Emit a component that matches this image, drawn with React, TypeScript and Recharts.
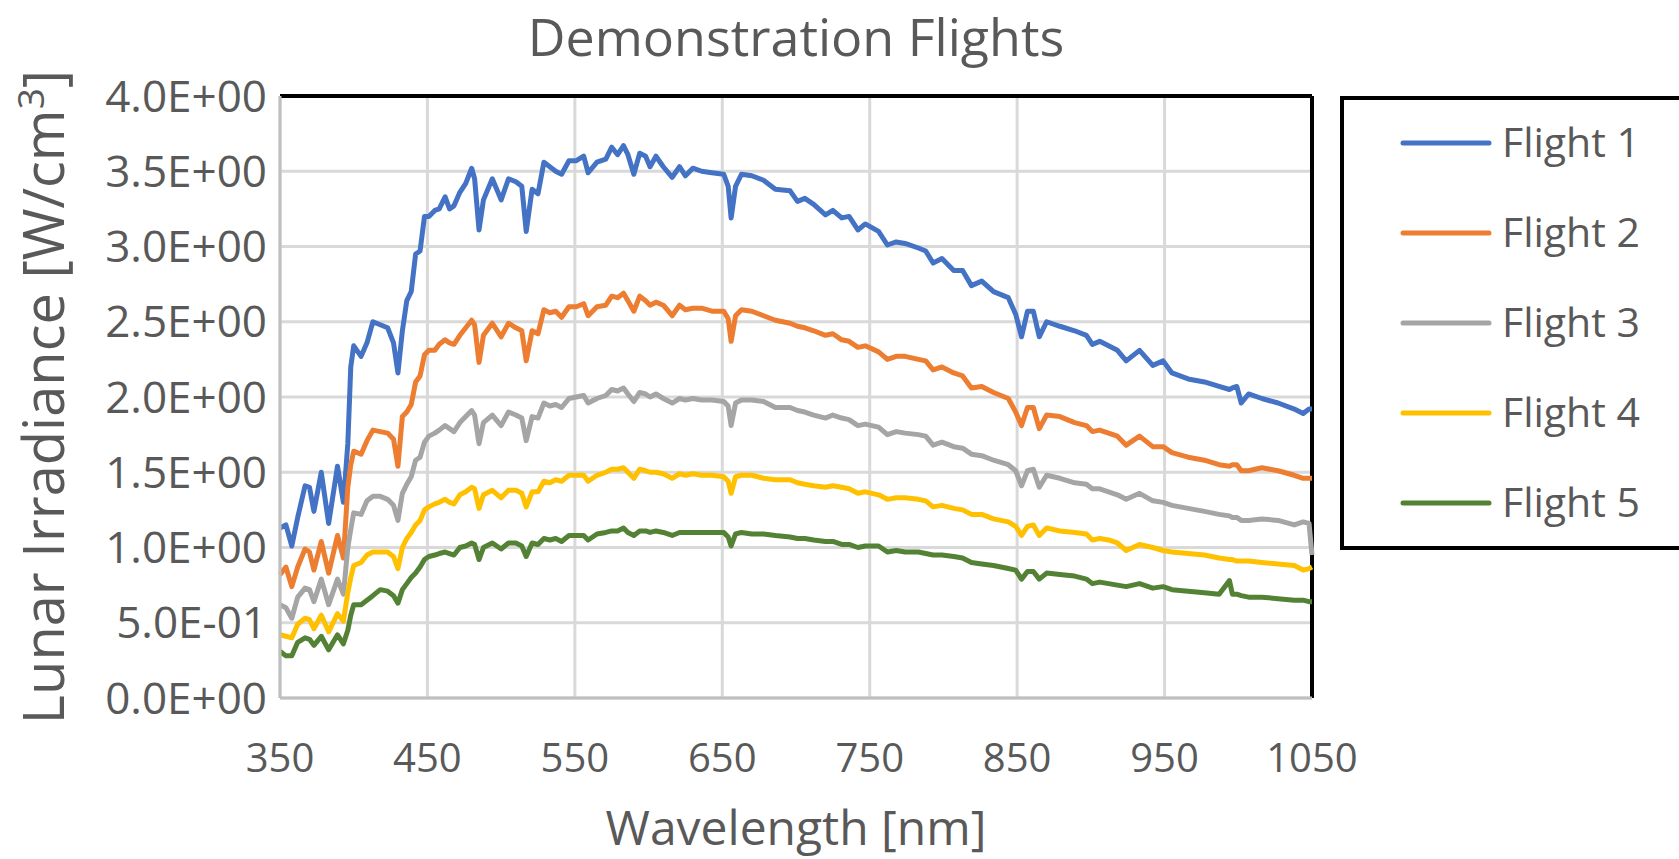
import {
  LineChart,
  Line,
  XAxis,
  YAxis,
  CartesianGrid,
  ReferenceLine,
} from "recharts";

const wavelengths = [
  350, 354, 358, 362, 367, 370, 373, 378, 383, 389,
  393, 396, 398, 400, 405, 409, 413, 418, 423, 427,
  430, 433, 436, 439, 442, 445, 448, 451, 455, 458,
  462, 465, 468, 472, 476, 480, 482, 485, 488, 494,
  500, 505, 510, 514, 517, 521, 525, 529, 533, 537,
  541, 546, 551, 556, 559, 565, 571, 575, 579, 583,
  586, 590, 594, 598, 601, 605, 610, 616, 621, 625,
  630, 636, 643, 651, 654, 656, 659, 663, 670, 678,
  686, 696, 701, 706, 712, 720, 725, 731, 736, 742,
  747, 756, 762, 768, 774, 783, 788, 793, 799, 807,
  813, 819, 826, 834, 844, 849, 853, 857, 861, 865,
  870, 879, 889, 897, 901, 906, 912, 918, 924, 933,
  942, 949, 955, 966, 977, 987, 994, 996, 999, 1002,
  1007, 1016, 1027, 1038, 1044, 1048, 1050,
];

const flight1 = [
  1.13, 1.15, 1.01, 1.2, 1.41, 1.4, 1.24, 1.5, 1.16, 1.54,
  1.3, 1.69, 2.2, 2.34, 2.27, 2.36, 2.5, 2.48, 2.46, 2.36,
  2.16, 2.44, 2.64, 2.7, 2.95, 2.97, 3.2, 3.2, 3.24, 3.25,
  3.33, 3.25, 3.27, 3.36, 3.42, 3.52, 3.45, 3.11, 3.31, 3.45,
  3.31, 3.45, 3.43, 3.4, 3.1, 3.38, 3.35, 3.56, 3.53, 3.5,
  3.48, 3.57, 3.57, 3.6, 3.49, 3.56, 3.58, 3.66, 3.61, 3.67,
  3.61, 3.48, 3.62, 3.6, 3.53, 3.6, 3.53, 3.46, 3.53, 3.47,
  3.52, 3.5, 3.49, 3.48, 3.4, 3.19, 3.4, 3.48, 3.47, 3.44,
  3.38, 3.37, 3.3, 3.32, 3.28, 3.21, 3.24, 3.19, 3.2, 3.11,
  3.15, 3.1, 3.01, 3.03, 3.02, 2.99, 2.97, 2.89, 2.92, 2.84,
  2.84, 2.74, 2.77, 2.7, 2.66, 2.55, 2.4, 2.57, 2.57, 2.4,
  2.5, 2.47, 2.44, 2.41, 2.35, 2.37, 2.34, 2.31, 2.24, 2.31,
  2.21, 2.24, 2.16, 2.12, 2.1, 2.07, 2.05, 2.06, 2.07, 1.96,
  2.02, 1.99, 1.96, 1.92, 1.89, 1.92, 1.92,
];

const flight2 = [
  0.82, 0.87, 0.74, 0.87, 0.99, 0.97, 0.85, 1.04, 0.83, 1.08,
  0.93, 1.4, 1.55, 1.64, 1.62, 1.71, 1.78, 1.77, 1.76, 1.72,
  1.54, 1.87, 1.9, 1.95, 2.1, 2.14, 2.28, 2.31, 2.31, 2.35,
  2.38, 2.36, 2.35, 2.41, 2.46, 2.51, 2.48, 2.23, 2.41, 2.49,
  2.4, 2.49, 2.46, 2.44, 2.24, 2.44, 2.42, 2.58, 2.56, 2.57,
  2.53, 2.6, 2.6, 2.62, 2.54, 2.6, 2.61, 2.67, 2.66, 2.69,
  2.64, 2.57, 2.67, 2.64, 2.61, 2.63, 2.61, 2.54, 2.61, 2.58,
  2.59, 2.59, 2.57, 2.57, 2.52, 2.37, 2.54, 2.58, 2.57, 2.54,
  2.51, 2.49, 2.47, 2.46, 2.44, 2.41, 2.42, 2.38, 2.37, 2.33,
  2.34, 2.3, 2.25, 2.27, 2.27, 2.25, 2.24, 2.18, 2.2, 2.16,
  2.14, 2.06, 2.07, 2.03, 1.99, 1.9, 1.81, 1.93, 1.93, 1.79,
  1.88, 1.87, 1.83, 1.81, 1.77, 1.78, 1.76, 1.74, 1.68, 1.74,
  1.67, 1.67, 1.63, 1.6, 1.58, 1.55, 1.54, 1.55, 1.55, 1.51,
  1.51, 1.53, 1.51, 1.48, 1.46, 1.46, 1.46,
];

const flight3 = [
  0.62, 0.6, 0.53, 0.67, 0.73, 0.72, 0.64, 0.79, 0.62, 0.79,
  0.69, 1.0, 1.12, 1.23, 1.22, 1.31, 1.34, 1.34, 1.32, 1.28,
  1.18, 1.36, 1.42, 1.47, 1.58, 1.6, 1.7, 1.74, 1.76, 1.78,
  1.81, 1.79, 1.77, 1.83, 1.87, 1.91, 1.88, 1.69, 1.83, 1.88,
  1.81, 1.9, 1.88, 1.86, 1.71, 1.87, 1.86, 1.96, 1.94, 1.95,
  1.93, 1.99, 2.0, 2.01, 1.96, 1.99, 2.01, 2.05, 2.04, 2.06,
  2.02, 1.97, 2.03, 2.02, 2.0, 2.02, 1.99, 1.96, 1.99, 1.98,
  1.99, 1.98, 1.98, 1.97, 1.94, 1.81, 1.96, 1.98, 1.98, 1.97,
  1.93, 1.93, 1.91, 1.9, 1.88, 1.86, 1.88, 1.86, 1.85, 1.81,
  1.82, 1.8, 1.75, 1.77, 1.76, 1.75, 1.74, 1.68, 1.7, 1.67,
  1.66, 1.62, 1.61, 1.58, 1.55, 1.51, 1.41, 1.51, 1.52, 1.4,
  1.48, 1.46, 1.43, 1.42, 1.39, 1.39, 1.37, 1.35, 1.32, 1.36,
  1.31, 1.3, 1.28, 1.26, 1.24, 1.22, 1.21, 1.2, 1.2, 1.18,
  1.18, 1.19, 1.18, 1.15, 1.17, 1.16, 0.95,
];

const flight4 = [
  0.42, 0.41, 0.4, 0.49, 0.53, 0.52, 0.46, 0.55, 0.44, 0.56,
  0.51, 0.7, 0.8, 0.88, 0.9, 0.95, 0.97, 0.97, 0.97, 0.94,
  0.86, 1.0, 1.06, 1.1, 1.15, 1.18, 1.25, 1.27, 1.29, 1.3,
  1.32, 1.3, 1.29, 1.35, 1.37, 1.4, 1.39, 1.26, 1.35, 1.38,
  1.33, 1.38, 1.38, 1.36, 1.27, 1.37, 1.37, 1.44, 1.43, 1.45,
  1.44, 1.48, 1.48, 1.48, 1.44, 1.48, 1.5, 1.52, 1.52, 1.53,
  1.5, 1.46, 1.52, 1.51, 1.5, 1.5, 1.49, 1.46, 1.49, 1.48,
  1.49, 1.48, 1.48, 1.47, 1.44, 1.36, 1.47, 1.48, 1.48, 1.46,
  1.45, 1.45, 1.43, 1.42, 1.41, 1.4, 1.41, 1.4, 1.39, 1.36,
  1.37, 1.35, 1.32, 1.33, 1.33, 1.32, 1.31, 1.27, 1.28, 1.26,
  1.25, 1.22, 1.22, 1.19, 1.17, 1.14, 1.08, 1.14, 1.15, 1.08,
  1.13, 1.11, 1.1, 1.09, 1.05, 1.06, 1.05, 1.03, 0.98, 1.02,
  1.0, 0.98, 0.97, 0.96, 0.95, 0.93, 0.92, 0.92, 0.91, 0.91,
  0.91, 0.9, 0.89, 0.88, 0.85, 0.86, 0.87,
];

const flight5 = [
  0.31, 0.28, 0.28, 0.37, 0.4, 0.39, 0.35, 0.41, 0.32, 0.42,
  0.36, 0.45, 0.55, 0.62, 0.62, 0.65, 0.68, 0.72, 0.71, 0.68,
  0.63, 0.72, 0.76, 0.8, 0.83, 0.87, 0.92, 0.94, 0.95, 0.96,
  0.97, 0.96, 0.95, 1.0, 1.01, 1.03, 1.02, 0.92, 1.0, 1.03,
  0.99, 1.03, 1.03, 1.01, 0.94, 1.03, 1.02, 1.06, 1.05, 1.06,
  1.04, 1.08, 1.08, 1.08, 1.05, 1.09, 1.1, 1.11, 1.11, 1.13,
  1.1, 1.08, 1.11, 1.11, 1.1, 1.11, 1.1, 1.08, 1.1, 1.1,
  1.1, 1.1, 1.1, 1.1, 1.07, 1.01, 1.09, 1.1, 1.09, 1.09,
  1.08, 1.07, 1.06, 1.06, 1.05, 1.04, 1.04, 1.02, 1.02, 1.0,
  1.01, 1.01, 0.97, 0.98, 0.97, 0.97, 0.96, 0.95, 0.95, 0.94,
  0.93, 0.9, 0.89, 0.88, 0.86, 0.85, 0.79, 0.84, 0.84, 0.79,
  0.83, 0.82, 0.81, 0.79, 0.76, 0.77, 0.76, 0.75, 0.74, 0.76,
  0.73, 0.74, 0.72, 0.71, 0.7, 0.69, 0.78, 0.69, 0.69, 0.68,
  0.67, 0.67, 0.66, 0.65, 0.65, 0.64, 0.64,
];

const xTicks = [350, 450, 550, 650, 750, 850, 950, 1050];
const yTicks = [0, 0.5, 1, 1.5, 2, 2.5, 3, 3.5, 4];

const seriesNames = ["Flight 1", "Flight 2", "Flight 3", "Flight 4", "Flight 5"];
const seriesKeys = ["f1", "f2", "f3", "f4", "f5"];
const COLORS = ["#4472C4", "#ED7D31", "#A5A5A5", "#FFC000", "#548235"];

const data = wavelengths.map((wl, i) => ({
  wl,
  f1: flight1[i],
  f2: flight2[i],
  f3: flight3[i],
  f4: flight4[i],
  f5: flight5[i],
}));

// Excel style scientific labels, e.g. 5.0E-01
const sci = (v: number) => {
  const [m, e] = v.toExponential(1).split("e");
  const sign = e[0] === "-" ? "-" : "+";
  const digits = e.replace(/[+-]/, "").padStart(2, "0");
  return `${m}E${sign}${digits}`;
};

const FONT = "'Open Sans', 'Noto Sans', sans-serif";
const TEXT = "#595959";

const App = () => {
  return (
    <div
      style={{
        position: "absolute",
        left: 0,
        top: 0,
        width: 1679,
        height: 859,
        background: "#fff",
        overflow: "hidden",
      }}
    >
      <LineChart
        width={1679}
        height={859}
        data={data}
        margin={{ top: 96, right: 367, bottom: 101, left: 0 }}
      >
        <CartesianGrid stroke="#d9d9d9" strokeWidth={3} />
        <ReferenceLine y={4} stroke="#000" strokeWidth={4} />
        <ReferenceLine x={1050} stroke="#000" strokeWidth={4} />
        <XAxis
          type="number"
          dataKey="wl"
          domain={[350, 1050]}
          ticks={xTicks}
          height={60}
          tickSize={0}
          tickLine={false}
          tickMargin={46}
          axisLine={{ stroke: "#bfbfbf", strokeWidth: 3 }}
          tick={{ fill: TEXT, fontSize: 40, fontFamily: FONT }}
        />
        <YAxis
          type="number"
          domain={[0, 4]}
          ticks={yTicks}
          width={280}
          tickSize={0}
          tickLine={false}
          tickMargin={13}
          tickFormatter={sci}
          axisLine={{ stroke: "#bfbfbf", strokeWidth: 3 }}
          tick={{ fill: TEXT, fontSize: 44, fontFamily: FONT }}
        />
        {seriesKeys.map((key, i) => (
          <Line
            key={key}
            type="linear"
            dataKey={key}
            name={seriesNames[i]}
            stroke={COLORS[i]}
            strokeWidth={5}
            strokeLinejoin="round"
            dot={false}
            activeDot={false}
            isAnimationActive={false}
          />
        ))}
      </LineChart>

      {/* Titles and legend */}
      <svg
        width={1679}
        height={859}
        style={{ position: "absolute", left: 0, top: 0, pointerEvents: "none" }}
      >
        <text
          x={796}
          y={56}
          textAnchor="middle"
          fontSize={52}
          fontFamily={FONT}
          fill={TEXT}
        >
          Demonstration Flights
        </text>
        <text
          x={796}
          y={845}
          textAnchor="middle"
          fontSize={48}
          fontFamily={FONT}
          fill={TEXT}
        >
          Wavelength [nm]
        </text>
        <text
          transform="rotate(-90)"
          x={-397}
          y={64}
          textAnchor="middle"
          fontSize={56}
          fontFamily={FONT}
          fill={TEXT}
        >
          Lunar Irradiance [W/cm
          <tspan fontSize={37} dy={-20}>
            3
          </tspan>
          <tspan dy={20}>]</tspan>
        </text>

        <rect
          x={1342}
          y={98}
          width={400}
          height={450}
          fill="#fff"
          stroke="#000"
          strokeWidth={4}
        />
        {seriesNames.map((name, i) => {
          const cy = 143 + i * 90;
          return (
            <g key={name}>
              <line
                x1={1403}
                x2={1489}
                y1={cy}
                y2={cy}
                stroke={COLORS[i]}
                strokeWidth={5}
                strokeLinecap="round"
              />
              <text
                x={1502}
                y={cy + 14}
                fontSize={41}
                fontFamily={FONT}
                fill={TEXT}
              >
                {name}
              </text>
            </g>
          );
        })}
      </svg>
    </div>
  );
};

export default App;
